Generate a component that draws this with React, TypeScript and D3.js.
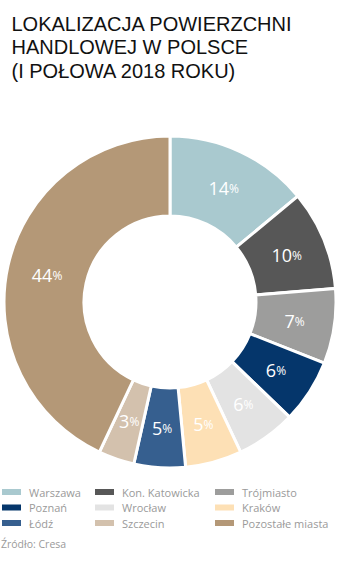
import React from "react";
import * as d3 from "d3";

const categories = ["Warszawa", "Kon. Katowicka", "Trójmiasto", "Poznań", "Wrocław", "Kraków", "Łódź", "Szczecin", "Pozostałe miasta"];
const values = [14, 9.7, 7.3, 6.2, 5.8, 5.5, 5.0, 3.5, 43];
// printed labels
const labels = ["14", "10", "7", "6", "6", "5", "5", "3", "44"];
const colors = ["#a9c9cf", "#575757", "#9d9d9c", "#05366b", "#e3e3e3", "#fde0b5", "#365f8f", "#d3c1ad", "#b49877"];
const legendOrder = ["Warszawa", "Kon. Katowicka", "Trójmiasto", "Poznań", "Wrocław", "Kraków", "Łódź", "Szczecin", "Pozostałe miasta"];
const titleLines = ["LOKALIZACJA POWIERZCHNI", "HANDLOWEJ W POLSCE", "(I POŁOWA 2018 ROKU)"];
const sourceText = "Źródło: Cresa";

export default function App() {
  const W = 342, H = 581;
  const cx = 170, cy = 302, outerR = 166, innerR = 86;
  const pie = d3.pie<number>().sort(null).value((d) => d)(values);
  const arc = d3.arc<d3.PieArcDatum<number>>().innerRadius(innerR).outerRadius(outerR);
  const labelArc = d3.arc<d3.PieArcDatum<number>>().innerRadius(innerR).outerRadius(outerR);
  const color = d3.scaleOrdinal<string, string>().domain(categories).range(colors);
  const colX = [2, 95, 215];
  const rowY = [492, 507.5, 523];
  const font = "'Open Sans', sans-serif";
  return (
    <svg width={W} height={H} style={{ position: "absolute", left: 0, top: 0 }}>
      <rect width={W} height={H} fill="#fff" />
      {titleLines.map((t, i) => (
        <text key={i} x={11.5} y={30.5 + i * 23.5} fontFamily="'Liberation Sans', Arial, sans-serif" fontSize={20} fill="#111">
          {t}
        </text>
      ))}
      <g transform={`translate(${cx},${cy})`}>
        {pie.map((p, i) => (
          <path key={i} d={arc(p) || ""} fill={colors[i]} stroke="#fff" strokeWidth={3} />
        ))}
        {pie.map((p, i) => {
          const [x, y] = labelArc.centroid(p);
          return (
            <text key={"l" + i} x={x} y={y} textAnchor="middle" dominantBaseline="central" fill="#fff" fontFamily={font}>
              <tspan fontSize={18}>{labels[i]}</tspan>
              <tspan fontSize={12}>%</tspan>
            </text>
          );
        })}
      </g>
      {legendOrder.map((c, i) => {
        const col = i % 3, row = Math.floor(i / 3);
        return (
          <g key={c}>
            <rect x={colX[col]} y={rowY[row] - 3} width={19} height={6} fill={color(c)} />
            <text x={colX[col] + 27} y={rowY[row]} dominantBaseline="central" fontFamily={font} fontSize={11} fill="#9a9a9a">
              {c}
            </text>
          </g>
        );
      })}
      <text x={1} y={548} fontFamily={font} fontSize={10.5} fill="#9a9a9a">
        {sourceText}
      </text>
    </svg>
  );
}
